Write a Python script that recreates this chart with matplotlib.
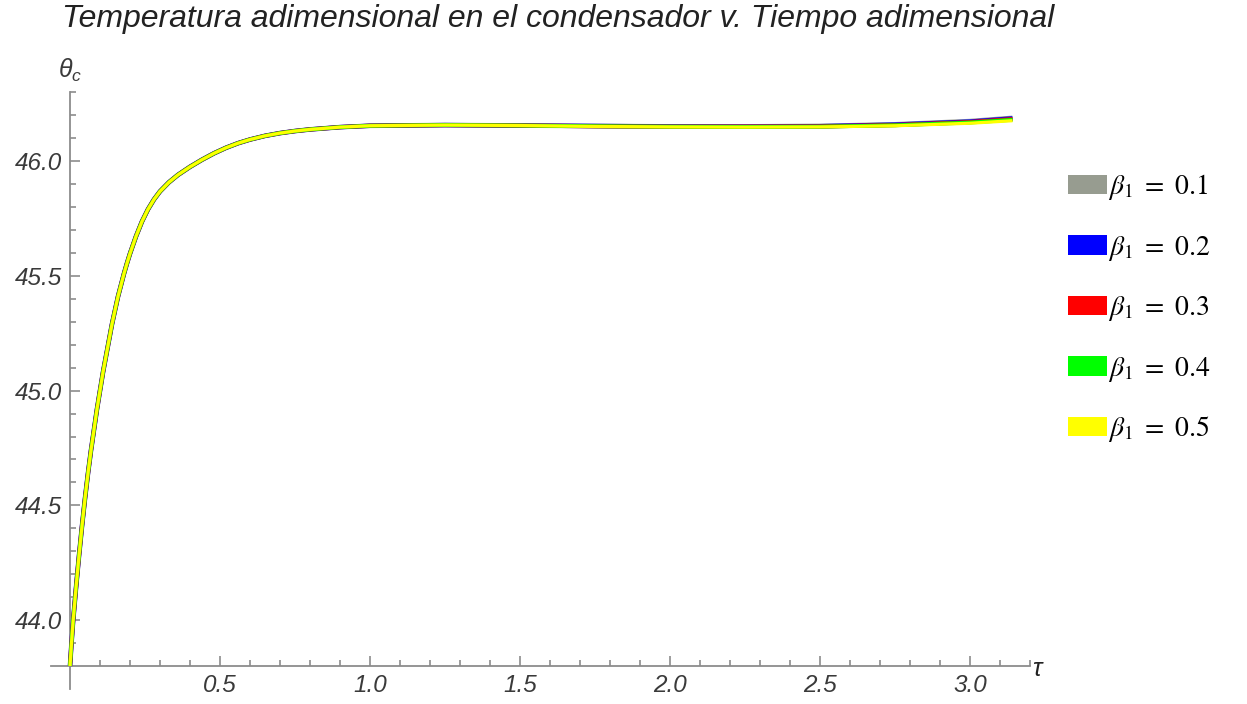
import matplotlib
matplotlib.use("Agg")
import numpy as np
from matplotlib import pyplot as plt
from matplotlib.patches import Patch
from matplotlib.font_manager import FontProperties
from matplotlib.ticker import FixedLocator, NullFormatter

# dimensionless time and condenser temperature, common rising part
tau_rise = [0.0, 0.005, 0.01, 0.02, 0.03, 0.04, 0.05, 0.06, 0.07, 0.08,
            0.09, 0.1, 0.11, 0.12, 0.13, 0.14, 0.15, 0.16, 0.17, 0.18,
            0.19, 0.2, 0.22, 0.24, 0.26, 0.28, 0.3, 0.33, 0.36, 0.4,
            0.44, 0.48, 0.52, 0.56, 0.6, 0.65, 0.7, 0.75, 0.8, 0.9,
            1.0, 1.25, 1.5]
theta_rise = [43.80, 43.90, 43.99, 44.14, 44.28, 44.41, 44.53, 44.64, 44.74, 44.83,
              44.92, 45.00, 45.08, 45.15, 45.22, 45.29, 45.35, 45.41, 45.46, 45.51,
              45.555, 45.597, 45.672, 45.737, 45.79, 45.833, 45.868, 45.908, 45.94, 45.975,
              46.006, 46.034, 46.058, 46.078, 46.094, 46.110, 46.122, 46.131, 46.138, 46.148,
              46.154, 46.157, 46.155]

# late part, slightly different for each beta_1
tau_tail = [1.75, 2.0, 2.25, 2.5, 2.75, 3.0, 3.1416]
theta_tail = {
    "0.1": [46.153, 46.151, 46.151, 46.153, 46.160, 46.174, 46.188],
    "0.2": [46.153, 46.151, 46.150, 46.152, 46.159, 46.172, 46.186],
    "0.3": [46.152, 46.150, 46.150, 46.151, 46.157, 46.170, 46.183],
    "0.4": [46.152, 46.150, 46.149, 46.150, 46.156, 46.168, 46.180],
    "0.5": [46.151, 46.149, 46.148, 46.149, 46.154, 46.165, 46.176],
}
betas = ["0.1", "0.2", "0.3", "0.4", "0.5"]
colors = ["#979c90", "#0000ff", "#ff0000", "#00ff00", "#ffff00"]
widths = [3.4, 3.2, 3.0, 2.8, 2.3]

x_major = [0.5, 1.0, 1.5, 2.0, 2.5, 3.0]
y_major = [44.0, 44.5, 45.0, 45.5, 46.0]

plt.rcParams['mathtext.fontset'] = 'custom'
plt.rcParams['mathtext.it'] = 'Liberation Sans:italic'
plt.rcParams['mathtext.rm'] = 'Liberation Sans'

fig = plt.figure(figsize=(12.47, 7.04), dpi=100)
W, H = 1247.0, 704.0
# axes box: x from -0.065 to 3.2, y from 43.7 to 46.3
px_per_x = 300.0
px_per_y = 229.5
x0, x1 = -0.065, 3.2
y0, y1 = 43.7, 46.3
left = (70 + x0 * px_per_x) / W
bottom = (H - (666 + (43.8 - y0) * px_per_y)) / H
ax = fig.add_axes([left, bottom, (x1 - x0) * px_per_x / W, (y1 - y0) * px_per_y / H])

for b, c, lw in zip(betas, colors, widths):
    xs = tau_rise + tau_tail
    ys = theta_rise + theta_tail[b]
    ax.plot(xs, ys, color=c, lw=lw, solid_capstyle='butt',
            solid_joinstyle='round', zorder=3)

ax.set_xlim(x0, x1)
ax.set_ylim(y0, y1)

axis_grey = '#8c8c8c'
for s in ['top', 'right']:
    ax.spines[s].set_visible(False)
ax.spines['left'].set_position(('data', 0))
ax.spines['bottom'].set_position(('data', 43.8))
for s in ['left', 'bottom']:
    ax.spines[s].set_color(axis_grey)
    ax.spines[s].set_linewidth(1.3)

ax.xaxis.set_major_locator(FixedLocator(x_major))
ax.yaxis.set_major_locator(FixedLocator(y_major))
x_minor = [round(0.1 * i, 1) for i in range(1, 33) if round(0.1 * i, 1) not in x_major]
y_minor = [round(43.8 + 0.1 * i, 1) for i in range(1, 26)
           if round(43.8 + 0.1 * i, 1) not in y_major]
ax.xaxis.set_minor_locator(FixedLocator(x_minor))
ax.yaxis.set_minor_locator(FixedLocator(y_minor))
ax.xaxis.set_minor_formatter(NullFormatter())
ax.yaxis.set_minor_formatter(NullFormatter())
ax.set_xticklabels(["%.1f" % v for v in x_major])
ax.set_yticklabels(["%.1f" % v for v in y_major])

ax.tick_params(which='both', direction='in', color=axis_grey, width=1.2,
               labelcolor='#3a3a3a')
ax.tick_params(which='major', length=7)
ax.tick_params(which='minor', length=4)
ax.tick_params(axis='x', pad=6)
ax.tick_params(axis='y', pad=6)
for lab in ax.get_xticklabels() + ax.get_yticklabels():
    lab.set_family('Liberation Sans')
    lab.set_style('italic')
    lab.set_fontsize(17.5)

# axis names at the ends of the axes
fig.text(58 / W, 1 - 78 / H, r'$\theta_c$', fontsize=18, color='#3a3a3a')
fig.text(1032 / W, 1 - 676 / H, r'$\tau$', fontsize=18, color='#222222')

fig.text(62 / W, 1 - 4 / H,
         'Temperatura adimensional en el condensador v. Tiempo adimensional',
         family='Liberation Sans', style='italic', fontsize=23, color='#222222',
         ha='left', va='top')

handles = [Patch(facecolor=c, edgecolor='none') for c in colors]
labels = [r'$\beta_1\ =\ %s$' % b for b in betas]
fig.legend(handles, labels, loc='upper left',
           bbox_to_anchor=(1068 / W, 1 - 172 / H), frameon=False,
           prop=FontProperties(size=20, math_fontfamily='stix'),
           handlelength=1.4, handleheight=0.7, handletextpad=0.05,
           labelspacing=1.1, borderaxespad=0, borderpad=0)

fig.savefig('out.png', dpi=100)
